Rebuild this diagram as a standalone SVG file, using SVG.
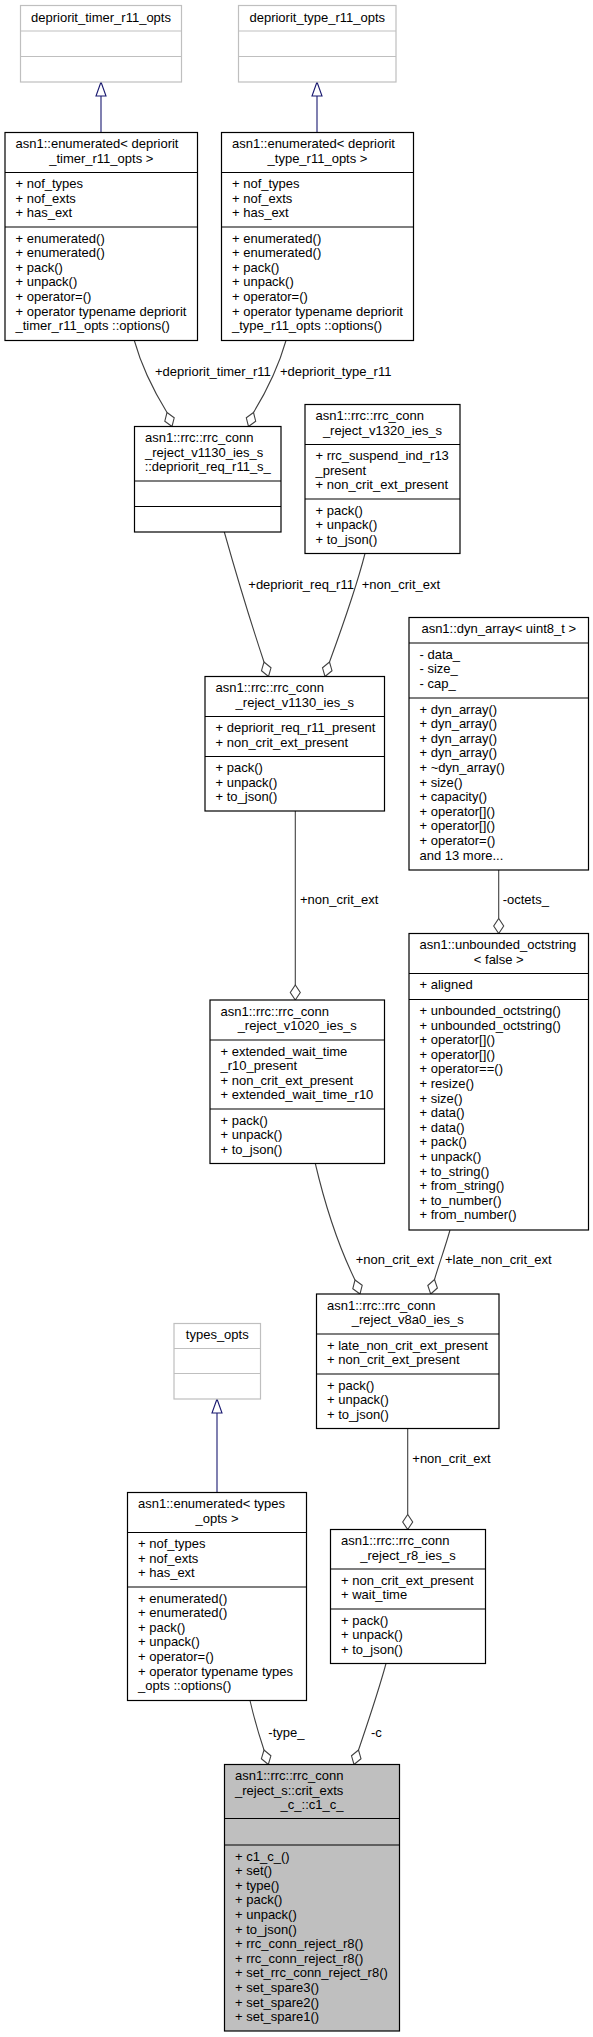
<svg xmlns="http://www.w3.org/2000/svg" width="593" height="2037" viewBox="0 0 593 2037">
<style>
text{font-family:"Liberation Sans",Arial,sans-serif;font-size:13px;fill:#000}
.m{text-anchor:middle}
.b{fill:#fff;stroke:#000;stroke-width:1.2}
.g{fill:#fff;stroke:#bfbfbf;stroke-width:1.2}
.s{fill:#bfbfbf;stroke:#000;stroke-width:1.2}
.d{stroke:#000;stroke-width:1.2}
.dg{stroke:#bfbfbf;stroke-width:1.2}
.e{fill:none;stroke:#404040;stroke-width:1.1}
.dm{fill:#fff;stroke:#404040;stroke-width:1.1}
.i{fill:none;stroke:#191970;stroke-width:1.1}
.t{fill:#fff;stroke:#191970;stroke-width:1.1}
</style>
<rect width="593" height="2037" fill="#fff"/>
<g id="connectors">
<path class="i" d="M101,132.5V96"/><polygon class="t" points="101,82 106,96 96,96"/>
<path class="i" d="M317,132.5V96"/><polygon class="t" points="317,82 322,96 312,96"/>
<path class="i" d="M217,1492.5V1413"/><polygon class="t" points="217,1399 222,1413 212,1413"/>
<path class="e" d="M134.3,340.5C142,368 155,393 167,412.5"/><polygon class="dm" points="172,426.5 174.2,417.8 167,412.5 164.8,421.2"/>
<path class="e" d="M286,340.5C279,365 266,392 253.5,412.5"/><polygon class="dm" points="248.5,426.5 255.7,421.2 253.5,412.5 246.3,417.8"/>
<path class="e" d="M224.3,532C235,570 250,620 264,662"/><polygon class="dm" points="268.5,676.5 271,667.8 264,662 261.5,670.7"/>
<path class="e" d="M365,553.5C357,585 343,625 329.5,662"/><polygon class="dm" points="325,676.5 332,670.7 329.5,662 322.5,667.8"/>
<path class="e" d="M498.7,870V918.5"/><polygon class="dm" points="498.7,933.5 503.7,926 498.7,918.5 493.7,926"/>
<path class="e" d="M295.3,811V985"/><polygon class="dm" points="295.3,1000 300.3,992.5 295.3,985 290.3,992.5"/>
<path class="e" d="M315.3,1163.5C325,1205 338,1245 355,1280"/><polygon class="dm" points="360,1294 362.2,1285.3 355,1280 352.8,1288.7"/>
<path class="e" d="M450,1230C445,1248 439,1264 434.5,1279.5"/><polygon class="dm" points="430.7,1294 437.4,1288 434.5,1279.5 427.8,1285.5"/>
<path class="e" d="M407.7,1428.5V1514.5"/><polygon class="dm" points="407.7,1529.5 412.7,1522 407.7,1514.5 402.7,1522"/>
<path class="e" d="M250,1700.5C254,1718 259,1735 264,1750"/><polygon class="dm" points="268.3,1764.5 270.9,1755.8 264,1750 261.4,1758.7"/>
<path class="e" d="M386,1663.5C378,1693 368,1722 358.5,1750"/><polygon class="dm" points="354,1764.5 361,1758.7 358.5,1750 351.5,1755.8"/>
<text x="155" y="375.5">+depriorit_timer_r11</text>
<text x="280" y="375.5">+depriorit_type_r11</text>
<text x="248.3" y="588.5">+depriorit_req_r11</text>
<text x="361.7" y="588.5">+non_crit_ext</text>
<text x="502.7" y="904">-octets_</text>
<text x="300" y="904">+non_crit_ext</text>
<text x="355.7" y="1264">+non_crit_ext</text>
<text x="445" y="1264">+late_non_crit_ext</text>
<text x="412.3" y="1462.7">+non_crit_ext</text>
<text x="268.3" y="1736.7">-type_</text>
<text x="371" y="1736.7">-c</text>
</g>
<g id="n1">
<rect class="g" x="20.5" y="5.5" width="161" height="76.5"/>
<path class="dg" d="M20.5,31H181.5M20.5,56.5H181.5"/>
<text class="m" x="101" y="21.5">depriorit_timer_r11_opts</text>
</g>
<g id="n2">
<rect class="g" x="238.5" y="5.5" width="157.5" height="76.5"/>
<path class="dg" d="M238.5,31H396M238.5,56.5H396"/>
<text class="m" x="317.25" y="21.5">depriorit_type_r11_opts</text>
</g>
<g id="n3">
<rect class="b" x="5" y="132.5" width="192.5" height="208"/>
<path class="d" d="M5,172.5H197.5M5,227H197.5"/>
<text x="15.5" y="148">asn1::enumerated&lt; depriorit</text>
<text class="m" x="101.25" y="162.6">_timer_r11_opts &gt;</text>
<text x="15.5" y="188">+ nof_types</text>
<text x="15.5" y="202.6">+ nof_exts</text>
<text x="15.5" y="217.2">+ has_ext</text>
<text x="15.5" y="242.5">+ enumerated()</text>
<text x="15.5" y="257.1">+ enumerated()</text>
<text x="15.5" y="271.7">+ pack()</text>
<text x="15.5" y="286.3">+ unpack()</text>
<text x="15.5" y="300.9">+ operator=()</text>
<text x="15.5" y="315.5">+ operator typename depriorit</text>
<text x="15.5" y="330.1">_timer_r11_opts ::options()</text>
</g>
<g id="n4">
<rect class="b" x="221.5" y="132.5" width="192" height="208"/>
<path class="d" d="M221.5,172.5H413.5M221.5,227H413.5"/>
<text x="232" y="148">asn1::enumerated&lt; depriorit</text>
<text class="m" x="317.5" y="162.6">_type_r11_opts &gt;</text>
<text x="232" y="188">+ nof_types</text>
<text x="232" y="202.6">+ nof_exts</text>
<text x="232" y="217.2">+ has_ext</text>
<text x="232" y="242.5">+ enumerated()</text>
<text x="232" y="257.1">+ enumerated()</text>
<text x="232" y="271.7">+ pack()</text>
<text x="232" y="286.3">+ unpack()</text>
<text x="232" y="300.9">+ operator=()</text>
<text x="232" y="315.5">+ operator typename depriorit</text>
<text x="232" y="330.1">_type_r11_opts ::options()</text>
</g>
<g id="n5">
<rect class="b" x="134.5" y="426.5" width="146.5" height="105.5"/>
<path class="d" d="M134.5,481H281M134.5,506.5H281"/>
<text x="145" y="442">asn1::rrc::rrc_conn</text>
<text x="145" y="456.6">_reject_v1130_ies_s</text>
<text class="m" x="207.75" y="471.2">::depriorit_req_r11_s_</text>
</g>
<g id="n6">
<rect class="b" x="305" y="404.5" width="155" height="149"/>
<path class="d" d="M305,444.5H460M305,499H460"/>
<text x="315.5" y="420">asn1::rrc::rrc_conn</text>
<text class="m" x="382.5" y="434.6">_reject_v1320_ies_s</text>
<text x="315.5" y="460">+ rrc_suspend_ind_r13</text>
<text x="315.5" y="474.6">_present</text>
<text x="315.5" y="489.2">+ non_crit_ext_present</text>
<text x="315.5" y="514.5">+ pack()</text>
<text x="315.5" y="529.1">+ unpack()</text>
<text x="315.5" y="543.7">+ to_json()</text>
</g>
<g id="n7">
<rect class="b" x="205" y="676.5" width="179.5" height="134.5"/>
<path class="d" d="M205,716.5H384.5M205,756.5H384.5"/>
<text x="215.5" y="692">asn1::rrc::rrc_conn</text>
<text class="m" x="294.75" y="706.6">_reject_v1130_ies_s</text>
<text x="215.5" y="732">+ depriorit_req_r11_present</text>
<text x="215.5" y="746.6">+ non_crit_ext_present</text>
<text x="215.5" y="772">+ pack()</text>
<text x="215.5" y="786.6">+ unpack()</text>
<text x="215.5" y="801.2">+ to_json()</text>
</g>
<g id="n8">
<rect class="b" x="409" y="617.5" width="179.5" height="252.5"/>
<path class="d" d="M409,643H588.5M409,698H588.5"/>
<text class="m" x="498.75" y="633">asn1::dyn_array&lt; uint8_t &gt;</text>
<text x="419.5" y="658.5">- data_</text>
<text x="419.5" y="673.1">- size_</text>
<text x="419.5" y="687.7">- cap_</text>
<text x="419.5" y="713.5">+ dyn_array()</text>
<text x="419.5" y="728.1">+ dyn_array()</text>
<text x="419.5" y="742.7">+ dyn_array()</text>
<text x="419.5" y="757.3">+ dyn_array()</text>
<text x="419.5" y="771.9">+ ~dyn_array()</text>
<text x="419.5" y="786.5">+ size()</text>
<text x="419.5" y="801.1">+ capacity()</text>
<text x="419.5" y="815.7">+ operator[]()</text>
<text x="419.5" y="830.3">+ operator[]()</text>
<text x="419.5" y="844.9">+ operator=()</text>
<text x="419.5" y="859.5">and 13 more...</text>
</g>
<g id="n9">
<rect class="b" x="409" y="933.5" width="179.5" height="296.5"/>
<path class="d" d="M409,973.5H588.5M409,999.5H588.5"/>
<text x="419.5" y="949">asn1::unbounded_octstring</text>
<text class="m" x="498.75" y="963.6">&lt; false &gt;</text>
<text x="419.5" y="989">+ aligned</text>
<text x="419.5" y="1015">+ unbounded_octstring()</text>
<text x="419.5" y="1029.6">+ unbounded_octstring()</text>
<text x="419.5" y="1044.2">+ operator[]()</text>
<text x="419.5" y="1058.8">+ operator[]()</text>
<text x="419.5" y="1073.4">+ operator==()</text>
<text x="419.5" y="1088">+ resize()</text>
<text x="419.5" y="1102.6">+ size()</text>
<text x="419.5" y="1117.2">+ data()</text>
<text x="419.5" y="1131.8">+ data()</text>
<text x="419.5" y="1146.4">+ pack()</text>
<text x="419.5" y="1161">+ unpack()</text>
<text x="419.5" y="1175.6">+ to_string()</text>
<text x="419.5" y="1190.2">+ from_string()</text>
<text x="419.5" y="1204.8">+ to_number()</text>
<text x="419.5" y="1219.4">+ from_number()</text>
</g>
<g id="n10">
<rect class="b" x="210" y="1000" width="174.5" height="163.5"/>
<path class="d" d="M210,1040H384.5M210,1109H384.5"/>
<text x="220.5" y="1015.5">asn1::rrc::rrc_conn</text>
<text class="m" x="297.25" y="1030.1">_reject_v1020_ies_s</text>
<text x="220.5" y="1055.5">+ extended_wait_time</text>
<text x="220.5" y="1070.1">_r10_present</text>
<text x="220.5" y="1084.7">+ non_crit_ext_present</text>
<text x="220.5" y="1099.3">+ extended_wait_time_r10</text>
<text x="220.5" y="1124.5">+ pack()</text>
<text x="220.5" y="1139.1">+ unpack()</text>
<text x="220.5" y="1153.7">+ to_json()</text>
</g>
<g id="n11">
<rect class="b" x="316.5" y="1294" width="182.5" height="134.5"/>
<path class="d" d="M316.5,1334H499M316.5,1374H499"/>
<text x="327" y="1309.5">asn1::rrc::rrc_conn</text>
<text class="m" x="407.75" y="1324.1">_reject_v8a0_ies_s</text>
<text x="327" y="1349.5">+ late_non_crit_ext_present</text>
<text x="327" y="1364.1">+ non_crit_ext_present</text>
<text x="327" y="1389.5">+ pack()</text>
<text x="327" y="1404.1">+ unpack()</text>
<text x="327" y="1418.7">+ to_json()</text>
</g>
<g id="n12">
<rect class="g" x="174" y="1323.5" width="86.5" height="75.5"/>
<path class="dg" d="M174,1348.5H260.5M174,1373.5H260.5"/>
<text class="m" x="217.25" y="1339">types_opts</text>
</g>
<g id="n13">
<rect class="b" x="127.5" y="1492.5" width="179" height="208"/>
<path class="d" d="M127.5,1532.5H306.5M127.5,1587H306.5"/>
<text x="138" y="1508">asn1::enumerated&lt; types</text>
<text class="m" x="217" y="1522.6">_opts &gt;</text>
<text x="138" y="1548">+ nof_types</text>
<text x="138" y="1562.6">+ nof_exts</text>
<text x="138" y="1577.2">+ has_ext</text>
<text x="138" y="1602.5">+ enumerated()</text>
<text x="138" y="1617.1">+ enumerated()</text>
<text x="138" y="1631.7">+ pack()</text>
<text x="138" y="1646.3">+ unpack()</text>
<text x="138" y="1660.9">+ operator=()</text>
<text x="138" y="1675.5">+ operator typename types</text>
<text x="138" y="1690.1">_opts ::options()</text>
</g>
<g id="n14">
<rect class="b" x="330.5" y="1529.5" width="155" height="134"/>
<path class="d" d="M330.5,1569H485.5M330.5,1609H485.5"/>
<text x="341" y="1545">asn1::rrc::rrc_conn</text>
<text class="m" x="408" y="1559.6">_reject_r8_ies_s</text>
<text x="341" y="1584.5">+ non_crit_ext_present</text>
<text x="341" y="1599.1">+ wait_time</text>
<text x="341" y="1624.5">+ pack()</text>
<text x="341" y="1639.1">+ unpack()</text>
<text x="341" y="1653.7">+ to_json()</text>
</g>
<g id="n15">
<rect class="s" x="224.5" y="1764.5" width="175" height="266.5"/>
<path class="d" d="M224.5,1818.5H399.5M224.5,1845H399.5"/>
<text x="235" y="1780">asn1::rrc::rrc_conn</text>
<text x="235" y="1794.6">_reject_s::crit_exts</text>
<text class="m" x="312" y="1809.2">_c_::c1_c_</text>
<text x="235" y="1860.5">+ c1_c_()</text>
<text x="235" y="1875.1">+ set()</text>
<text x="235" y="1889.7">+ type()</text>
<text x="235" y="1904.3">+ pack()</text>
<text x="235" y="1918.9">+ unpack()</text>
<text x="235" y="1933.5">+ to_json()</text>
<text x="235" y="1948.1">+ rrc_conn_reject_r8()</text>
<text x="235" y="1962.7">+ rrc_conn_reject_r8()</text>
<text x="235" y="1977.3">+ set_rrc_conn_reject_r8()</text>
<text x="235" y="1991.9">+ set_spare3()</text>
<text x="235" y="2006.5">+ set_spare2()</text>
<text x="235" y="2021.1">+ set_spare1()</text>
</g>
</svg>
